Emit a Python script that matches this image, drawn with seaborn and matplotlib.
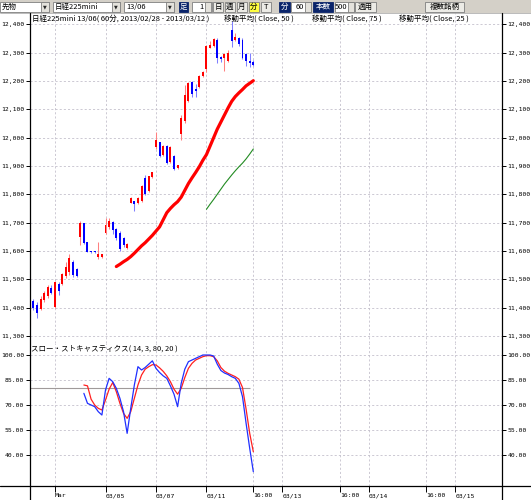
import matplotlib
matplotlib.use('Agg')
import matplotlib.pyplot as plt
import matplotlib.ticker as mticker
from matplotlib.patches import Rectangle
import seaborn as sns
import numpy as np

# 60-minute bars, Nikkei 225 mini 13/06, 2013/02/28 - 2013/03/12
opens = [11345, 11425, 11410, 11395, 11428, 11440, 11470, 11402, 11485, 11485,
         11512, 11525, 11560, 11535, 11650, 11697, 11630, 11598, 11598, 11578,
         11578, 11665, 11683, 11702, 11676, 11665, 11645, 11612, 11771, 11775,
         11768, 11776, 11858, 11812, 11860, 11966, 11983, 11940, 11970, 11915,
         11936, 11893, 12012, 12060, 12130, 12195, 12170, 12180, 12218, 12243,
         12318, 12325, 12346, 12286, 12280, 12272, 12380, 12343, 12352, 12345,
         12295, 12272, 12268]
highs = [11425, 11432, 11418, 11440, 11460, 11478, 11478, 11495, 11490, 11522,
         11560, 11588, 11568, 11540, 11704, 11700, 11632, 11600, 11600, 11630,
         11590, 11718, 11718, 11706, 11680, 11670, 11650, 11628, 11792, 11778,
         11790, 11832, 11868, 11866, 11880, 12020, 11986, 11975, 11975, 11970,
         11940, 11905, 12080, 12185, 12198, 12200, 12188, 12220, 12236, 12328,
         12340, 12352, 12350, 12289, 12300, 12308, 12410, 12370, 12355, 12350,
         12300, 12300, 12275]
lows = [11335, 11390, 11365, 11390, 11420, 11435, 11448, 11398, 11445, 11480,
        11505, 11515, 11508, 11508, 11622, 11625, 11595, 11594, 11594, 11570,
        11575, 11660, 11678, 11660, 11640, 11600, 11615, 11608, 11768, 11740,
        11765, 11772, 11796, 11808, 11856, 11960, 11932, 11935, 11908, 11910,
        11885, 11890, 11992, 12050, 12125, 12145, 12143, 12175, 12215, 12232,
        12315, 12320, 12262, 12268, 12237, 12268, 12320, 12340, 12322, 12276,
        12252, 12250, 12252]
closes = [11420, 11400, 11380, 11430, 11452, 11472, 11452, 11490, 11458, 11518,
          11545, 11575, 11515, 11512, 11697, 11629, 11597, 11596, 11596, 11590,
          11588, 11693, 11705, 11675, 11647, 11608, 11622, 11624, 11788, 11765,
          11788, 11828, 11800, 11863, 11877, 11990, 11936, 11972, 11912, 11967,
          11890, 11902, 12070, 12150, 12192, 12154, 12165, 12216, 12230, 12324,
          12328, 12348, 12280, 12278, 12295, 12300, 12340, 12355, 12330, 12280,
          12272, 12262, 12258]

# moving averages (aligned to the last bars)
ma25 = [11545, 11553, 11562, 11570, 11580, 11592, 11605, 11618, 11629, 11642,
        11655, 11670, 11685, 11710, 11735, 11750, 11763, 11774, 11790, 11814,
        11838, 11858, 11877, 11897, 11920, 11940, 11970, 12000, 12030, 12055,
        12080, 12105, 12128, 12145, 12158, 12170, 12183, 12192, 12201]
ma50 = [11747, 11765, 11782, 11800, 11818, 11836, 11852, 11868, 11883, 11897,
        11910, 11925, 11942, 11960]

# slow stochastics (14, 3, 80, 20)
stoch_k = [77, 71, 70, 69, 66, 64, 79, 86, 84, 80, 74, 66, 53, 68, 82, 93,
           91, 92.5, 94.5, 96.5, 92, 89.5, 87.5, 86, 81.5, 76.5, 69, 83, 91.5, 96,
           97, 98, 99, 100, 100, 100, 99.4, 94.5, 90.7, 89.2, 88.3, 87, 86, 83,
           75, 59, 44, 30]
stoch_d = [82, 81.5, 73.5, 70, 68, 67, 73, 79.5, 83.5, 78, 71, 65, 62, 66, 74, 82,
           88, 91.5, 93, 94.2, 94, 92.3, 90.2, 87.5, 84, 79.5, 76.5, 80, 86.5, 92,
           95, 97, 98, 99, 99.6, 99.6, 99, 96.5, 92.5, 90.3, 89, 88, 87, 85.5,
           80.5, 67.5, 53, 42]
stoch_level = 80

price_ticks = list(range(11300, 12401, 100))
stoch_ticks = [40, 55, 70, 85, 100]
x_tick_slots = [7, 21, 35, 49, 62, 70, 86, 94, 110, 118]
x_tick_labels = ['Mar', '03/05', '03/07', '03/11', '16:00', '03/13',
                 '16:00', '03/14', '16:00', '03/15']

sns.set_style('white')
FONT = ['DejaVu Sans Mono']
JP = ['Noto Sans CJK JP', 'DejaVu Sans']
plt.rcParams['font.family'] = FONT
GRID = '#c4c0cc'
W, H = 531, 500

fig = plt.figure(figsize=(W / 100, H / 100), dpi=100)
left, right = 29.8, 501.7
ax = fig.add_axes([left / W, 1 - 343 / H, (right - left) / W, (343 - 13) / H])
ax2 = fig.add_axes([left / W, 1 - 485.7 / H, (right - left) / W, (485.7 - 343) / H], sharex=ax)

x = np.arange(len(closes))
o, hi, lo, c = map(np.array, (opens, highs, lows, closes))
up = c >= o

# candles
ax.vlines(x, lo, hi, colors=np.where(up, '#ff8080', '#7f7fff'), lw=0.75, zorder=3)
body = np.maximum(np.abs(c - o), 4)
ax.bar(x, body, bottom=np.minimum(o, c), width=0.55,
       color=np.where(up, '#ff0000', '#0000ff'), linewidth=0, zorder=4)

# moving averages
sns.lineplot(x=x[len(x) - len(ma25):], y=ma25, ax=ax, color='#ff0000', lw=2.3, zorder=5)
sns.lineplot(x=x[len(x) - len(ma50):], y=ma50, ax=ax, color='#228b22', lw=0.8, zorder=5)

# stochastics
ax2.hlines(stoch_level, x[0], x[-2], color='#a09a9a', lw=0.8, zorder=2)
sns.lineplot(x=x[len(x) - len(stoch_d):], y=stoch_d, ax=ax2, color='#ff2020', lw=0.9, zorder=4)
sns.lineplot(x=x[len(x) - len(stoch_k):], y=stoch_k, ax=ax2, color='#2030ff', lw=0.9, zorder=5)

ax.set_xlim(0, 130.9)
ax.set_ylim(11275, 12440)
ax2.set_ylim(21.6, 107.2)

for a in (ax, ax2):
    a.set_facecolor('white')
    for s in a.spines.values():
        s.set_visible(False)
    a.grid(True, color=GRID, ls=(0, (2.5, 2.5)), lw=0.6, zorder=0)
    a.set_axisbelow(True)
    a.tick_params(axis='y', left=True, right=True, labelleft=True, labelright=True,
                  direction='out', length=3, width=0.7, pad=1, labelsize=4.6, colors='black')
    a.set_xlabel('')
    a.set_ylabel('')

ax.set_yticks(price_ticks)
ax.yaxis.set_major_formatter(mticker.FuncFormatter(lambda v, p: f'{v:,.0f}'))
ax.tick_params(axis='x', bottom=False, labelbottom=False)
ax2.set_yticks(stoch_ticks)
ax2.yaxis.set_major_formatter(mticker.FuncFormatter(lambda v, p: f'{v:.2f}'))
ax2.set_xticks(x_tick_slots)
ax2.set_xticklabels(x_tick_labels, ha='left')
ax2.tick_params(axis='x', bottom=True, direction='out', length=4, width=0.7,
                pad=1.5, labelsize=4.6, colors='black')

# overlay in pixel coordinates: toolbar, frame lines, captions
ov = fig.add_axes([0, 0, 1, 1], zorder=10)
ov.set_xlim(0, W)
ov.set_ylim(H, 0)
ov.axis('off')

ov.add_patch(Rectangle((0, 0), W, 13, fc='#d4d0c8', ec='none'))
ov.plot([0, W], [13, 13], color='#a0a0a0', lw=0.5)


def box(x0, x1, fc='white', ec='#7f7f7f'):
    ov.add_patch(Rectangle((x0, 1.5), x1 - x0, 10, fc=fc, ec=ec, lw=0.6))


def label(xp, s, color='black', ha='left', size=5.4):
    ov.text(xp, 6.6, s, color=color, ha=ha, va='center', fontsize=size, family=JP)


combos = [(0, 49, '先物'), (52.5, 120, '日経225mini'), (124, 174, '13/06')]
for x0, x1, s in combos:
    box(x0, x1)
    box(x1 - 8, x1, fc='#e4e2dc')
    label(x0 + 2, s)
    ov.text(x1 - 4, 6.8, '▼', fontsize=3.5, ha='center', va='center', family='DejaVu Sans')

navy = '#0a246a'
box(179, 188, fc=navy, ec=navy)
label(183.5, '足', color='white', ha='center')
box(192, 212)
label(203, '1', ha='right')
box(204.5, 211, fc='#e4e2dc')
for x0, s, fc in [(213, '日', '#ecebe6'), (225, '週', '#ecebe6'), (237, '月', '#ecebe6'),
                  (249, '分', '#ffff40'), (261, 'T', '#ecebe6')]:
    box(x0, x0 + 10, fc=fc)
    label(x0 + 5, s, ha='center')
box(279, 290, fc=navy, ec=navy)
label(284.5, '分', color='white', ha='center')
box(291, 311)
label(304, '60', ha='right')
box(304.5, 311, fc='#e4e2dc')
box(313, 333, fc=navy, ec=navy)
label(323, '本数', color='white', ha='center')
box(335, 354)
label(347, '500', ha='right')
box(347.5, 354, fc='#e4e2dc')
box(355, 376, fc='#ecebe6')
label(365.5, '適用', ha='center')
box(425, 464, fc='#ecebe6')
label(444.5, '複数銘柄', ha='center')

# frame lines
ov.plot([left, left], [13, H], color='black', lw=0.9)
ov.plot([right, right], [13, H], color='black', lw=0.9)
ov.plot([0, W], [485.7, 485.7], color='black', lw=0.9)

cap = dict(fontsize=5.4, va='center', ha='left', family=JP, color='black')
ov.text(32, 19, '日経225mini 13/06( 60分, 2013/02/28 - 2013/03/12 )', **cap)
ov.text(223.5, 19, '移動平均( Close, 50 )', **cap)
ov.text(311.5, 19, '移動平均( Close, 75 )', **cap)
ov.text(399, 19, '移動平均( Close, 25 )', **cap)
ov.text(31, 349, 'スロー・ストキャスティクス( 14, 3, 80, 20 )', **cap)

fig.savefig('out.png', dpi=100)
